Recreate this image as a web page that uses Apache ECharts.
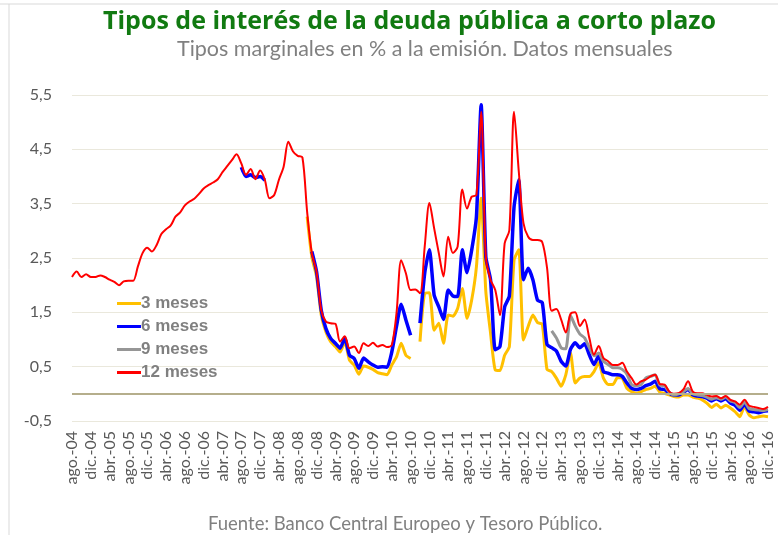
<!DOCTYPE html>
<html>
<head>
<meta charset="utf-8">
<script src="https://cdn.jsdelivr.net/npm/echarts@6/dist/echarts.min.js"></script>
<style>
  html, body { margin: 0; padding: 0; background: #fff; }
  #main { width: 778px; height: 535px; }
</style>
</head>
<body>
<div id="main"></div>
<script>
// meses: ago-04 .. dic-16
var monthNames = ['ene.','feb.','mar.','abr.','may.','jun.','jul.','ago.','sep.','oct.','nov.','dic.'];
var categories = [];
for (var y = 2004; y <= 2016; y++) {
    for (var m = 0; m < 12; m++) {
        if (y === 2004 && m < 7) continue;
        categories.push(monthNames[m] + '-' + String(y).slice(2));
    }
}

var yTicks = [-0.5, 0.5, 1.5, 2.5, 3.5, 4.5, 5.5];

var meses12 = [2.15,2.25,2.15,2.2,2.15,2.15,2.18,2.15,2.1,2.06,2.0,2.07,2.08,2.08,2.34,2.59,2.69,2.62,2.74,2.94,
    3.03,3.1,3.26,3.34,3.47,3.54,3.59,3.68,3.78,3.84,3.89,3.95,4.08,4.19,4.3,4.41,4.24,4.03,4.14,3.95,
    4.11,3.94,3.6,3.66,3.94,4.18,4.64,4.46,4.38,4.35,3.35,2.59,2.25,1.54,1.33,1.3,1.29,0.96,1.06,0.84,
    0.87,0.75,0.93,0.88,0.94,0.87,0.9,0.86,0.9,1.48,2.46,2.22,1.91,1.92,1.85,2.71,3.51,3.05,2.59,2.16,
    2.89,2.59,2.71,3.76,3.41,3.63,3.66,5.19,2.52,2.1,1.91,1.45,2.77,3.01,5.19,4.1,3.14,2.89,2.83,2.83,
    2.79,2.33,1.53,1.56,1.37,1.13,1.47,1.5,1.25,1.37,1.03,0.72,0.88,0.66,0.6,0.53,0.53,0.57,0.41,0.29,
    0.17,0.23,0.26,0.32,0.35,0.18,0.17,0.04,0.0,0.01,0.08,0.23,0.04,0.01,0.01,-0.02,-0.05,-0.04,-0.08,-0.04,
    -0.11,-0.14,-0.2,-0.11,-0.22,-0.24,-0.26,-0.28,-0.24];

var meses6 = [null,null,null,null,null,null,null,null,null,null,null,null,null,null,null,null,null,null,null,null,
    null,null,null,null,null,null,null,null,null,null,null,null,null,null,null,null,4.17,4.0,4.03,3.98,
    4.0,3.93,null,null,null,null,null,null,null,null,null,2.62,2.25,1.54,1.2,1.02,0.93,0.84,1.02,0.71,
    0.65,0.47,0.66,0.59,0.53,0.49,0.5,0.49,0.77,1.24,1.65,1.36,1.08,null,1.3,2.22,2.65,1.82,1.6,1.37,
    1.91,1.8,1.79,2.65,2.23,2.65,3.26,5.32,2.52,2.1,0.81,0.87,1.6,1.8,3.44,3.94,2.1,2.31,2.1,1.72,
    1.68,0.91,0.85,0.79,0.6,0.51,0.82,0.94,0.85,0.92,0.72,0.54,0.7,0.41,0.38,0.35,0.35,0.32,0.2,0.1,
    0.08,0.1,0.15,0.18,0.23,0.09,0.08,0.01,-0.02,-0.02,0.03,0.08,-0.02,-0.04,-0.05,-0.08,-0.13,-0.09,-0.13,-0.09,
    -0.17,-0.21,-0.3,-0.19,-0.32,-0.33,-0.35,-0.32,-0.31];

var meses3 = [null,null,null,null,null,null,null,null,null,null,null,null,null,null,null,null,null,null,null,null,
    null,null,null,null,null,null,null,null,null,null,null,null,null,null,null,null,null,null,null,null,
    null,null,null,null,null,null,null,null,null,null,3.26,2.52,2.16,1.45,1.14,0.96,0.87,0.77,0.96,0.62,
    0.53,0.36,0.51,0.49,0.45,0.39,0.37,0.35,0.53,0.68,0.93,0.71,0.65,null,0.96,1.85,1.86,1.17,1.3,0.93,
    1.45,1.43,1.57,1.94,1.39,1.73,2.34,3.6,1.88,1.12,0.44,0.43,0.71,0.87,2.46,2.65,0.99,1.24,1.45,1.31,
    1.28,0.45,0.41,0.29,0.14,0.35,0.75,0.2,0.29,0.32,0.32,0.41,0.57,0.29,0.17,0.17,0.3,0.29,0.1,0.04,
    0.01,0.04,0.08,0.1,0.14,0.03,0.01,-0.02,-0.05,-0.06,-0.02,-0.02,-0.06,-0.08,-0.11,-0.17,-0.25,-0.19,-0.26,-0.21,
    -0.26,-0.33,-0.42,-0.23,-0.39,-0.44,-0.42,-0.41,-0.42];

var meses9 = [null,null,null,null,null,null,null,null,null,null,null,null,null,null,null,null,null,null,null,null,
    null,null,null,null,null,null,null,null,null,null,null,null,null,null,null,null,null,null,null,null,
    null,null,null,null,null,null,null,null,null,null,null,null,null,null,null,null,null,null,null,null,
    null,null,null,null,null,null,null,null,null,null,null,null,null,null,null,null,null,null,null,null,
    null,null,null,null,null,null,null,null,null,null,null,null,null,null,null,null,null,null,null,null,
    null,null,1.16,1.03,0.85,0.83,1.44,1.25,1.1,1.03,0.85,0.7,0.75,0.6,0.54,0.48,0.48,0.45,0.36,0.17,
    0.15,0.17,0.29,0.32,0.35,0.16,0.15,0.03,-0.02,0.0,0.04,0.1,0.0,-0.02,-0.03,-0.06,-0.1,-0.07,-0.1,-0.06,
    -0.13,-0.16,-0.25,-0.15,-0.27,-0.29,-0.3,-0.31,-0.29];

var myChart = echarts.init(document.getElementById('main'));

function linea(name, data, color, width, smooth) {
    return {
        name: name,
        type: 'line',
        data: data,
        symbol: 'none',
        smooth: smooth,
        connectNulls: false,
        lineStyle: { color: color, width: width },
        itemStyle: { color: color }
    };
}

var s3 = linea('3 meses', meses3, '#FFC000', 3, 0.2);
// eje horizontal en el cero
s3.markLine = {
    silent: true,
    symbol: 'none',
    label: { show: false },
    lineStyle: { color: '#B5AE8C', width: 2, type: 'solid' },
    data: [{ yAxis: 0 }]
};

myChart.setOption({
    animation: false,
    textStyle: { fontFamily: 'Lato' },
    title: [{
        text: 'Tipos de interés de la deuda pública a corto plazo',
        left: 98,
        top: 4,
        textStyle: { color: '#117A11', fontSize: 25, fontWeight: 'bold', fontFamily: 'Open Sans' }
    }, {
        text: 'Tipos marginales en % a la emisión. Datos mensuales',
        left: 172,
        top: 33,
        textStyle: { color: '#808080', fontSize: 21.5, fontWeight: 'normal', fontFamily: 'Lato' }
    }, {
        text: 'Fuente: Banco Central Europeo y Tesoro Público.',
        left: 203,
        top: 510,
        textStyle: { color: '#808080', fontSize: 18.5, fontWeight: 'normal', fontFamily: 'Lato' }
    }],
    legend: {
        orient: 'vertical',
        left: 112,
        top: 290,
        icon: 'rect',
        itemWidth: 24,
        itemHeight: 3,
        itemGap: 6,
        data: ['3 meses', '6 meses', '9 meses', '12 meses'],
        textStyle: { color: '#808080', fontSize: 17, fontWeight: 'bold', fontFamily: 'Liberation Sans', padding: [0, 0, 0, -5] }
    },
    grid: { left: 72, right: 10, top: 95, bottom: 114 },
    xAxis: {
        type: 'category',
        data: categories,
        boundaryGap: false,
        axisLine: { show: false },
        axisTick: { show: false },
        axisLabel: {
            interval: 3,
            rotate: 90,
            margin: 10,
            color: '#595959',
            fontSize: 16,
            fontFamily: 'Lato'
        }
    },
    yAxis: {
        type: 'value',
        min: yTicks[0],
        max: yTicks[yTicks.length - 1],
        interval: 1,
        axisLine: { show: false },
        axisTick: { show: false },
        splitLine: { lineStyle: { color: '#EAE8DC', width: 1 } },
        axisLabel: {
            margin: 20,
            color: '#595959',
            fontSize: 16,
            fontFamily: 'Lato',
            formatter: function (v) { return String(v).replace('.', ','); }
        }
    },
    graphic: [
        { type: 'line', shape: { x1: 0, y1: 4, x2: 778, y2: 4 }, style: { stroke: '#D9D9D9', lineWidth: 1 } },
        { type: 'line', shape: { x1: 9, y1: 4, x2: 9, y2: 535 }, style: { stroke: '#D9D9D9', lineWidth: 1 } }
    ],
    series: [
        s3,
        linea('6 meses', meses6, '#0000FF', 3.5, 0.2),
        linea('9 meses', meses9, '#969696', 3, 0.2),
        linea('12 meses', meses12, '#FF0000', 2, 0.3)
    ]
});
</script>
</body>
</html>
